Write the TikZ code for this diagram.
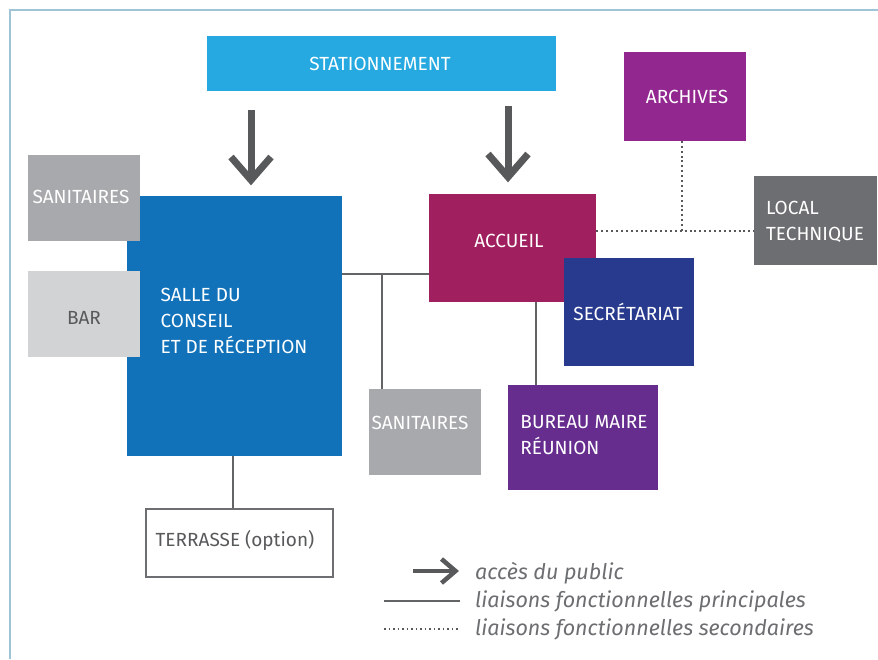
\documentclass[tikz,border=0pt]{standalone}
\usepackage{fontspec}
\setmainfont{Fira Sans}
\usetikzlibrary{calc}
\definecolor{cframe}{HTML}{9FC4D5}
\definecolor{cstat}{HTML}{25A9E0}
\definecolor{csalle}{HTML}{1172BA}
\definecolor{csan}{HTML}{A7A9AC}
\definecolor{cbar}{HTML}{D1D3D4}
\definecolor{caccueil}{HTML}{A01F5E}
\definecolor{csecr}{HTML}{283A8E}
\definecolor{cbureau}{HTML}{662D8E}
\definecolor{carch}{HTML}{92278F}
\definecolor{clocal}{HTML}{6D6E71}
\definecolor{cline}{HTML}{636466}
\definecolor{carrow}{HTML}{58595B}
\definecolor{ctext}{HTML}{58595B}
\definecolor{clegend}{HTML}{6D6E71}
\begin{document}
\begin{tikzpicture}[x=1pt,y=-1pt,
  box/.style={draw=none, inner sep=0pt, anchor=north west, text=white,
    font=\fontsize{19}{26}\selectfont, align=left},
  boxtext/.style={inner sep=0pt, text=white, font=\fontsize{19}{26}\selectfont, align=left},
  mainline/.style={draw=cline, line width=2.6pt},
  secline/.style={draw=carrow, line width=2.2pt, dash pattern=on 2pt off 2.9pt},
  pubarrow/.style={draw=carrow, line width=7pt, miter limit=10},
  legtext/.style={anchor=west, inner sep=0pt, text=clegend, font=\fontsize{21.5}{24}\selectfont\itshape}
]
\useasboundingbox (0,0) rectangle (878,659);
\fill[white] (0,0) rectangle (878,659);
% frame
\draw[cframe, line width=1.5pt] (878,10) -- (10,10) -- (10,659);

% boxes
\node[box, fill=cstat, minimum width=349pt, minimum height=55pt] (stat) at (207,36) {};
\node[boxtext] (statt) at (380,64) {STATIONNEMENT};

\node[box, fill=csalle, minimum width=215pt, minimum height=260pt] (salle) at (127,196) {};
\node[boxtext] (sallet) at (234,321) {SALLE DU\\CONSEIL\\ET DE RÉCEPTION};

\node[box, fill=csan, minimum width=112pt, minimum height=86pt] (san1) at (28,155) {};
\node[boxtext] (san1t) at (81,197) {SANITAIRES};

\node[box, fill=cbar, minimum width=112pt, minimum height=86pt] (bar) at (28,271) {};
\node[boxtext, text=ctext] (bart) at (84,318) {BAR};

\node[box, fill=caccueil, minimum width=167pt, minimum height=108pt] (accueil) at (429,194) {};
\node[boxtext] (accueilt) at (509,241) {ACCUEIL};

\node[box, fill=csecr, minimum width=130pt, minimum height=108pt] (secr) at (564,258) {};
\node[boxtext] (secrt) at (628,312) {SECRÉTARIAT};

\node[box, fill=carch, minimum width=122pt, minimum height=89pt] (arch) at (624,52) {};
\node[boxtext] (archt) at (687,97) {ARCHIVES};

\node[box, fill=clocal, minimum width=123pt, minimum height=89pt] (local) at (754,176) {};
\node[boxtext] (localt) at (815,222) {LOCAL\\TECHNIQUE};

\node[box, fill=csan, minimum width=112pt, minimum height=86pt] (san2) at (369,389) {};
\node[boxtext] (san2t) at (420,423) {SANITAIRES};

\node[box, fill=cbureau, minimum width=150pt, minimum height=105pt] (bureau) at (508,385) {};
\node[boxtext] (bureaut) at (584,435) {BUREAU MAIRE\\RÉUNION};

\node[box, fill=white, draw=clocal, line width=1.8pt, minimum width=187pt, minimum height=68pt] (terr) at (145,508) {};
\node[boxtext, text=ctext] (terrt) at (235,540) {TERRASSE (option)};

% main connectors
\coordinate (j1) at (382,274);
\coordinate (j2) at (536,302);
\coordinate (j3) at (233,480);
\draw[mainline] (salle.east |- j1) -- (accueil.west |- j1);
\draw[mainline] (j1) -- (j1 |- san2.north);
\draw[mainline] (j2 |- accueil.south) -- (j2 |- bureau.north);
\draw[mainline] (j3 |- salle.south) -- (j3 |- terr.north);

% secondary connectors
\coordinate (j4) at (682,231);
\draw[secline] (accueil.east |- j4) -- (local.west |- j4);
\draw[secline] (j4) -- (j4 |- arch.south);

% public access arrows
\coordinate (a1s) at (251,110);
\coordinate (a1e) at (251,180);
\coordinate (a2s) at (508,106);
\coordinate (a2e) at (508,177);
\draw[pubarrow] (a1s) -- (a1e);
\draw[pubarrow] ($(a1e)+(-20,-23)$) -- (a1e) -- ($(a1e)+(20,-23)$);
\draw[pubarrow] (a2s) -- (a2e);
\draw[pubarrow] ($(a2e)+(-20,-23)$) -- (a2e) -- ($(a2e)+(20,-23)$);

% legend
\coordinate (l1s) at (413,571);
\coordinate (l1e) at (455.5,571);
\draw[draw=carrow, line width=4.5pt] (l1s) -- (l1e);
\draw[draw=carrow, line width=4.5pt, miter limit=10] ($(l1e)+(-14,-12)$) -- (l1e) -- ($(l1e)+(-14,12)$);
\node[legtext] (lg1) at (475,573) {accès du public};
\coordinate (l2s) at (384,601);
\coordinate (l2e) at (460,601);
\draw[draw=cline, line width=2.6pt] (l2s) -- (l2e);
\node[legtext] (lg2) at (475,601) {liaisons fonctionnelles principales};
\coordinate (l3s) at (384,629);
\coordinate (l3e) at (460,629);
\draw[draw=carrow, line width=1.8pt, dash pattern=on 1.8pt off 2.7pt] (l3s) -- (l3e);
\node[legtext] (lg3) at (475,629) {liaisons fonctionnelles secondaires};
\end{tikzpicture}
\end{document}
